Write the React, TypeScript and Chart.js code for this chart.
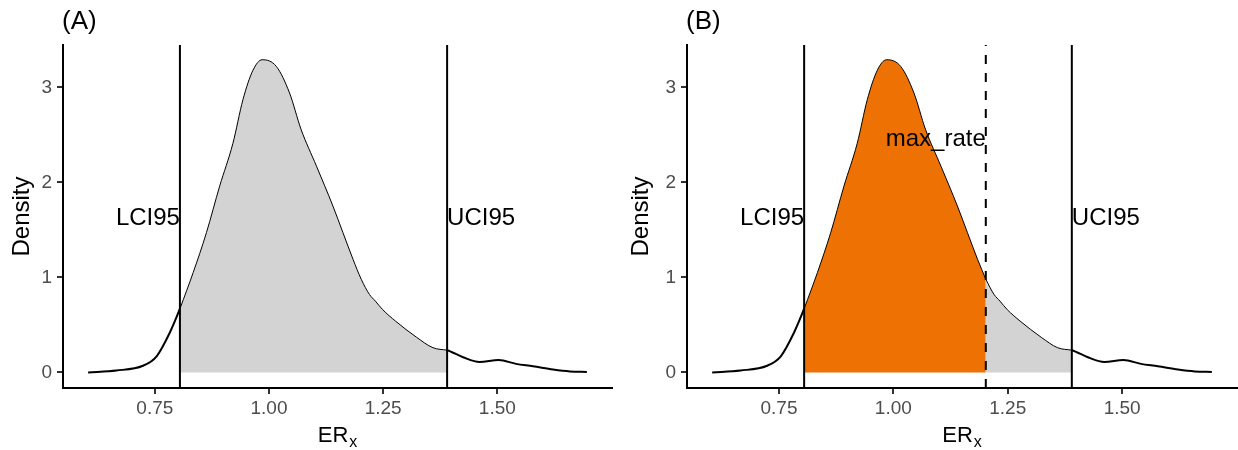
import React, { useEffect, useRef } from 'react';
import { Chart, registerables } from 'chart.js';

Chart.register(...registerables);

// ---- data ----
const densityX = [0.604, 0.666, 0.724, 0.754, 0.783, 0.805, 0.834, 0.863, 0.892, 0.921, 0.943, 0.965, 0.985, 1.016, 1.045, 1.07, 1.104, 1.14, 1.162, 1.184, 1.202, 1.22, 1.233, 1.249, 1.277, 1.323, 1.359, 1.39, 1.425, 1.461, 1.503, 1.541, 1.578, 1.622, 1.659, 1.696];
const densityY = [0.0, 0.02, 0.07, 0.17, 0.42, 0.67, 1.05, 1.47, 1.96, 2.41, 2.87, 3.18, 3.29, 3.22, 2.94, 2.56, 2.17, 1.75, 1.47, 1.19, 0.98, 0.82, 0.75, 0.66, 0.54, 0.37, 0.26, 0.234, 0.16, 0.11, 0.13, 0.09, 0.065, 0.03, 0.01, 0.005];
const LCI95 = 0.805;
const UCI95 = 1.39;
const MAX_RATE = 1.202;
const xTickValues = [0.75, 1.0, 1.25, 1.5];
const yTickValues = [0, 1, 2, 3];
const xRange = [0.549, 1.751];
const yRange = [-0.164, 3.445];
const labelY = [1.62, 2.45]; // CI labels, max_rate label

const FONT = '"Liberation Sans", Arial, Helvetica, sans-serif';
const GREY = '#D3D3D3';
const ORANGE = '#EE7203';

type Pt = { x: number; y: number };
const points: Pt[] = densityX.map((x, i) => ({ x, y: densityY[i] }));
const region = (a: number, b: number) => points.filter((p) => p.x >= a - 1e-9 && p.x <= b + 1e-9);
const vline = (x: number): Pt[] => [
  { x, y: yRange[0] },
  { x, y: yRange[1] },
];

function makeConfig(panel: 'A' | 'B', yAxisWidth: number, padRight: number): any {
  const datasets: any[] = [];
  const lineBase = { pointRadius: 0, tension: 0, fill: false, borderColor: '#000', borderWidth: 2 };
  datasets.push({ ...lineBase, data: vline(LCI95), order: 1 });
  datasets.push({ ...lineBase, data: vline(UCI95), order: 1 });
  if (panel === 'B') {
    datasets.push({ ...lineBase, data: vline(MAX_RATE), borderDash: [9, 9], order: 1 });
  }
  const areaBase = {
    pointRadius: 0,
    cubicInterpolationMode: 'monotone',
    fill: { value: 0 },
    borderColor: '#000',
    borderWidth: 1,
    order: 3,
  };
  if (panel === 'A') {
    datasets.push({ ...areaBase, data: region(LCI95, UCI95), backgroundColor: GREY });
  } else {
    datasets.push({ ...areaBase, data: region(LCI95, MAX_RATE), backgroundColor: ORANGE });
    datasets.push({ ...areaBase, data: region(MAX_RATE, UCI95), backgroundColor: GREY });
  }
  datasets.push({
    data: points,
    pointRadius: 0,
    cubicInterpolationMode: 'monotone',
    fill: false,
    borderColor: '#000',
    borderWidth: 2,
    order: 5,
    segment: {
      borderColor: (ctx: any) =>
        ctx.p0.parsed.x >= LCI95 - 1e-9 && ctx.p1.parsed.x <= UCI95 + 1e-9 ? 'rgba(0,0,0,0)' : '#000',
    },
  });

  const textPlugin = {
    id: 'texts',
    afterDraw(chart: any) {
      const { ctx, chartArea, scales } = chart;
      const xs = scales.x;
      const ys = scales.y;
      ctx.save();
      // panel title
      ctx.fillStyle = '#000';
      ctx.font = `26px ${FONT}`;
      ctx.textAlign = 'left';
      ctx.textBaseline = 'alphabetic';
      ctx.fillText(`(${panel})`, chartArea.left - 1, 29);
      // x axis title with subscript
      ctx.font = `22px ${FONT}`;
      const wER = ctx.measureText('ER').width;
      ctx.font = `16px ${FONT}`;
      const wx = ctx.measureText('x').width;
      const total = wER + 1 + wx;
      const cx = (chartArea.left + chartArea.right) / 2;
      const x0 = cx - total / 2;
      ctx.font = `22px ${FONT}`;
      ctx.fillText('ER', x0, 442);
      ctx.font = `16px ${FONT}`;
      ctx.fillText('x', x0 + wER + 1, 447);
      // annotations
      ctx.font = `24px ${FONT}`;
      ctx.textBaseline = 'middle';
      ctx.textAlign = 'right';
      ctx.fillText('LCI95', xs.getPixelForValue(LCI95), ys.getPixelForValue(labelY[0]));
      ctx.textAlign = 'left';
      ctx.fillText('UCI95', xs.getPixelForValue(UCI95), ys.getPixelForValue(labelY[0]));
      if (panel === 'B') {
        ctx.textAlign = 'right';
        ctx.fillText('max_rate', xs.getPixelForValue(MAX_RATE), ys.getPixelForValue(labelY[1]));
      }
      ctx.restore();
    },
  };

  return {
    type: 'line',
    data: { datasets },
    plugins: [textPlugin],
    options: {
      animation: false,
      responsive: false,
      maintainAspectRatio: false,
      parsing: true,
      layout: { padding: { top: 45, right: padRight, left: 0, bottom: 0 } },
      plugins: { legend: { display: false }, tooltip: { enabled: false }, title: { display: false } },
      scales: {
        x: {
          type: 'linear',
          min: xRange[0],
          max: xRange[1],
          afterBuildTicks: (s: any) => {
            s.ticks = xTickValues.map((v) => ({ value: v }));
          },
          afterFit: (s: any) => {
            s.height = 62;
          },
          ticks: {
            callback: (v: any) => Number(v).toFixed(2),
            font: { family: FONT, size: 19 },
            color: '#4D4D4D',
            padding: 3,
            maxRotation: 0,
            autoSkip: false,
          },
          grid: { drawOnChartArea: false, drawTicks: true, tickLength: 6, color: '#333333', lineWidth: 2 },
          border: { display: true, color: '#000', width: 2 },
        },
        y: {
          type: 'linear',
          min: yRange[0],
          max: yRange[1],
          afterBuildTicks: (s: any) => {
            s.ticks = yTickValues.map((v) => ({ value: v }));
          },
          afterFit: (s: any) => {
            s.width = yAxisWidth;
          },
          ticks: {
            callback: (v: any) => String(v),
            font: { family: FONT, size: 19 },
            color: '#4D4D4D',
            padding: 5,
            autoSkip: false,
          },
          title: {
            display: true,
            text: 'Density',
            color: '#000',
            font: { family: FONT, size: 24 },
            padding: { top: 8, bottom: 0 },
          },
          grid: { drawOnChartArea: false, drawTicks: true, tickLength: 6, color: '#333333', lineWidth: 2 },
          border: { display: true, color: '#000', width: 2 },
        },
      },
    },
  };
}

function Panel({ panel, width, yAxisWidth, padRight }: { panel: 'A' | 'B'; width: number; yAxisWidth: number; padRight: number }) {
  const ref = useRef<HTMLCanvasElement | null>(null);
  useEffect(() => {
    if (!ref.current) return;
    const chart = new Chart(ref.current, makeConfig(panel, yAxisWidth, padRight));
    return () => chart.destroy();
  }, [panel, yAxisWidth, padRight]);
  return (
    <div style={{ width, height: 450, position: 'relative' }}>
      <canvas ref={ref} width={width} height={450} style={{ display: 'block', width, height: 450 }} />
    </div>
  );
}

export default function App() {
  useEffect(() => {
    document.body.style.margin = '0';
    document.body.style.background = '#fff';
  }, []);
  return (
    <div style={{ display: 'flex', width: 1238, height: 450, background: '#fff' }}>
      <Panel panel="A" width={619} yAxisWidth={63} padRight={7} />
      <Panel panel="B" width={619} yAxisWidth={68} padRight={1} />
    </div>
  );
}
